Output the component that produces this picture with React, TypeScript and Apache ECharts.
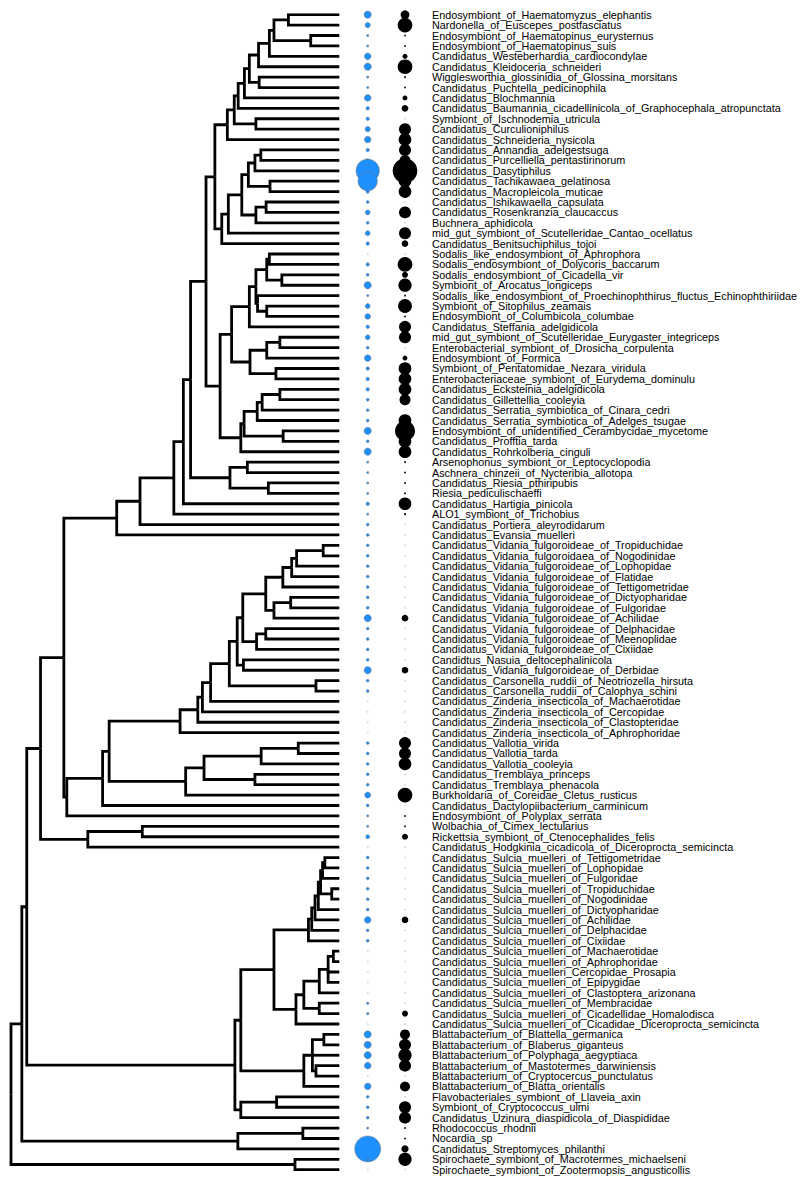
import React, { useEffect, useRef } from "react";
import * as echarts from "echarts";

const leafLabels: string[] = [
  "Endosymbiont_of_Haematomyzus_elephantis",
  "Nardonella_of_Euscepes_postfasciatus",
  "Endosymbiont_of_Haematopinus_eurysternus",
  "Endosymbiont_of_Haematopinus_suis",
  "Candidatus_Westeberhardia_cardiocondylae",
  "Candidatus_Kleidoceria_schneideri",
  "Wigglesworthia_glossinidia_of_Glossina_morsitans",
  "Candidatus_Puchtella_pedicinophila",
  "Candidatus_Blochmannia",
  "Candidatus_Baumannia_cicadellinicola_of_Graphocephala_atropunctata",
  "Symbiont_of_Ischnodemia_utricula",
  "Candidatus_Curculioniphilus",
  "Candidatus_Schneideria_nysicola",
  "Candidatus_Annandia_adelgestsuga",
  "Candidatus_Purcelliella_pentastirinorum",
  "Candidatus_Dasytiphilus",
  "Candidatus_Tachikawaea_gelatinosa",
  "Candidatus_Macropleicola_muticae",
  "Candidatus_Ishikawaella_capsulata",
  "Candidatus_Rosenkranzia_claucaccus",
  "Buchnera_aphidicola",
  "mid_gut_symbiont_of_Scutelleridae_Cantao_ocellatus",
  "Candidatus_Benitsuchiphilus_tojoi",
  "Sodalis_like_endosymbiont_of_Aphrophora",
  "Sodalis_endosymbiont_of_Dolycoris_baccarum",
  "Sodalis_endosymbiont_of_Cicadella_vir",
  "Symbiont_of_Arocatus_longiceps",
  "Sodalis_like_endosymbiont_of_Proechinophthirus_fluctus_Echinophthiriidae",
  "Symbiont_of_Sitophilus_zeamais",
  "Endosymbiont_of_Columbicola_columbae",
  "Candidatus_Steffania_adelgidicola",
  "mid_gut_symbiont_of_Scutelleridae_Eurygaster_integriceps",
  "Enterobacterial_symbiont_of_Drosicha_corpulenta",
  "Endosymbiont_of_Formica",
  "Symbiont_of_Pentatomidae_Nezara_viridula",
  "Enterobacteriaceae_symbiont_of_Eurydema_dominulu",
  "Candidatus_Ecksteinia_adelgidicola",
  "Candidatus_Gillettellia_cooleyia",
  "Candidatus_Serratia_symbiotica_of_Cinara_cedri",
  "Candidatus_Serratia_symbiotica_of_Adelges_tsugae",
  "Endosymbiont_of_unidentified_Cerambycidae_mycetome",
  "Candidatus_Profftia_tarda",
  "Candidatus_Rohrkolberia_cinguli",
  "Arsenophonus_symbiont_or_Leptocyclopodia",
  "Aschnera_chinzeii_of_Nycteribia_allotopa",
  "Candidatus_Riesia_pthiripubis",
  "Riesia_pediculischaeffi",
  "Candidatus_Hartigia_pinicola",
  "ALO1_symbiont_of_Trichobius",
  "Candidatus_Portiera_aleyrodidarum",
  "Candidatus_Evansia_muelleri",
  "Candidatus_Vidania_fulgoroideae_of_Tropiduchidae",
  "Candidatus_Vidania_fulgoroidaea_of_Nogodinidae",
  "Candidatus_Vidania_fulgoroideae_of_Lophopidae",
  "Candidatus_Vidania_fulgoroideae_of_Flatidae",
  "Candidatus_Vidania_fulgoroideae_of_Tettigometridae",
  "Candidatus_Vidania_fulgoroideae_of_Dictyopharidae",
  "Candidatus_Vidania_fulgoroideae_of_Fulgoridae",
  "Candidatus_Vidania_fulgoroideae_of_Achilidae",
  "Candidatus_Vidania_fulgoroideae_of_Delphacidae",
  "Candidatus_Vidania_fulgoroideae_of_Meenoplidae",
  "Candidatus_Vidania_fulgoroideae_of_Cixiidae",
  "Candidtus_Nasuia_deltocephalinicola",
  "Candidatus_Vidania_fulgoroideae_of_Derbidae",
  "Candidatus_Carsonella_ruddii_of_Neotriozella_hirsuta",
  "Candidatus_Carsonella_ruddii_of_Calophya_schini",
  "Candidatus_Zinderia_insecticola_of_Machaerotidae",
  "Candidatus_Zinderia_insecticola_of_Cercopidae",
  "Candidatus_Zinderia_insecticola_of_Clastopteridae",
  "Candidatus_Zinderia_insecticola_of_Aphrophoridae",
  "Candidatus_Vallotia_virida",
  "Candidatus_Vallotia_tarda",
  "Candidatus_Vallotia_cooleyia",
  "Candidatus_Tremblaya_princeps",
  "Candidatus_Tremblaya_phenacola",
  "Burkholdaria_of_Coreidae_Cletus_rusticus",
  "Candidatus_Dactylopiibacterium_carminicum",
  "Endosymbiont_of_Polyplax_serrata",
  "Wolbachia_of_Cimex_lectularius",
  "Rickettsia_symbiont_of_Ctenocephalides_felis",
  "Candidatus_Hodgkinia_cicadicola_of_Diceroprocta_semicincta",
  "Candidatus_Sulcia_muelleri_of_Tettigometridae",
  "Candidatus_Sulcia_muelleri_of_Lophopidae",
  "Candidatus_Sulcia_muelleri_of_Fulgoridae",
  "Candidatus_Sulcia_muelleri_of_Tropiduchidae",
  "Candidatus_Sulcia_muelleri_of_Nogodinidae",
  "Candidatus_Sulcia_muelleri_of_Dictyopharidae",
  "Candidatus_Sulcia_muelleri_of_Achilidae",
  "Candidatus_Sulcia_muelleri_of_Delphacidae",
  "Candidatus_Sulcia_muelleri_of_Cixiidae",
  "Candidatus_Sulcia_muelleri_of_Machaerotidae",
  "Candidatus_Sulcia_muelleri_of_Aphrophoridae",
  "Candidatus_Sulcia_muelleri_Cercopidae_Prosapia",
  "Candidatus_Sulcia_muelleri_of_Epipygidae",
  "Candidatus_Sulcia_muelleri_of_Clastoptera_arizonana",
  "Candidatus_Sulcia_muelleri_of_Membracidae",
  "Candidatus_Sulcia_muelleri_of_Cicadellidae_Homalodisca",
  "Candidatus_Sulcia_muelleri_of_Cicadidae_Diceroprocta_semicincta",
  "Blattabacterium_of_Blattella_germanica",
  "Blattabacterium_of_Blaberus_giganteus",
  "Blattabacterium_of_Polyphaga_aegyptiaca",
  "Blattabacterium_of_Mastotermes_darwiniensis",
  "Blattabacterium_of_Cryptocercus_punctulatus",
  "Blattabacterium_of_Blatta_orientalis",
  "Flavobacteriales_symbiont_of_Llaveia_axin",
  "Symbiont_of_Cryptococcus_ulmi",
  "Candidatus_Uzinura_diaspidicola_of_Diaspididae",
  "Rhodococcus_rhodnii",
  "Nocardia_sp",
  "Candidatus_Streptomyces_philanthi",
  "Spirochaete_symbiont_of_Macrotermes_michaelseni",
  "Spirochaete_symbiont_of_Zootermopsis_angusticollis",
];

// blue bubble values (area units), one per leaf, 0 = absent
const blueValues: number[] = [
  13, 7, 1, 1, 11, 13, 1, 1, 11, 3,
  3, 7, 11, 3, 3, 136, 93, 3, 2, 6,
  2, 6, 3, 0, 3, 2, 13, 1, 6, 8,
  3, 6, 2, 11, 3, 3, 3, 2, 2, 2,
  13, 2, 13, 1, 1, 1, 1, 3, 1, 2,
  2, 2, 2, 2, 2, 2, 2, 2, 13, 2,
  2, 2, 2, 13, 2, 2, 0, 0, 0, 0,
  2, 2, 2, 2, 2, 9, 2, 1, 1, 4,
  0, 2, 2, 2, 2, 2, 2, 11, 2, 2,
  0, 0, 0, 0, 0, 1.5, 1.5, 0, 13, 13,
  13, 11, 0, 11, 2, 2, 2, 1, 1, 169,
  3, 0,
];

// black bubble values (area units), one per leaf, 0 = absent
const blackValues: number[] = [
  19, 54, 0.8, 0.8, 6, 54, 0.8, 0.8, 6, 11,
  0, 36, 40, 36, 30, 152, 40, 40, 0, 36,
  0, 36, 11, 0, 54, 9, 44, 0.8, 48, 0.8,
  36, 36, 0, 6, 40, 40, 40, 30, 0, 40,
  100, 40, 40, 0.8, 0.8, 0.8, 0.8, 40, 1, 0,
  0, 0, 0, 0, 0, 0, 0, 0, 11, 0,
  0, 0, 0, 11, 0, 0, 0, 0, 0, 0,
  36, 36, 40, 0, 0, 54, 0, 0.8, 0.8, 9,
  0, 0, 0, 0, 0, 0, 0, 11, 0, 0,
  0, 0, 0, 0, 0, 0, 9, 0, 25, 36,
  44, 36, 0, 25, 0, 36, 36, 0.8, 0.8, 13,
  44, 0,
];

// Tree topology: n(nodeDepth, ...children); leaves are 1-based label numbers, tips at depth 100
type TNode = { d: number; c: (TNode | number)[] };
const n = (d: number, ...c: (TNode | number)[]): TNode => ({ d, c });

const tree: TNode = n(0,
  n(3.3,
    n(4.8,
      n(9.0,
        n(16.1,
          n(32.2,
            n(39.3,
              n(49.6,
                n(52.5,
                  n(54.7,
                    n(59.4,
                      n(62.1,
                        n(65.9,
                          n(68.0,
                            n(69.2,
                              n(71.1,
                                n(72.6,
                                  n(75.4, n(78.7, n(80.1, n(84.5, 1, 2), n(91.3, 3, 4)), 5), 6),
                                  n(75.6, 7, 8)
                                ),
                                9
                              ),
                              10
                            ),
                            n(74.6, 11, 12)
                          ),
                          13
                        ),
                        n(64.2,
                          n(66.2,
                            n(70.3,
                              n(72.3, n(74.3, n(76.1, 14, 15), 16), n(78.9, 17, 18)),
                              n(74.6, n(77.7, 19, 20), 21)
                            ),
                            22
                          ),
                          23
                        )
                      ),
                      n(63.7,
                        n(67.2,
                          n(72.6,
                            n(74.6,
                              n(77.9, n(78.7, 24, 25), n(82.5, 26, 27)),
                              n(75.1, 28, n(77.9, 29, 30))
                            ),
                            31
                          ),
                          n(72.8,
                            n(77.9, n(81.9, 32, 33), 34),
                            n(80.7, 35, 36)
                          )
                        ),
                        n(70.0,
                          n(71.0,
                            n(75.0, n(76.5, n(81.9, 37, 38), 39), 40),
                            n(82.9, 41, 42)
                          ),
                          43
                        )
                      )
                    ),
                    n(66.7, n(72.0, 44, 45), n(78.4, 46, 47))
                  ),
                  48
                ),
                49
              ),
              50
            ),
            51
          ),
          n(17.0,
            n(27.9,
              n(29.9,
                n(51.5,
                  n(56.9,
                    n(58.3,
                      n(60.8,
                        n(66.5,
                          n(68.9,
                            n(70.6,
                              n(77.6,
                                n(82.8, n(85.5, n(87.0, n(95.1, 52, 53), 54), 55), 56),
                                n(80.1, n(85.2, 57, 58), 59)
                              ),
                              n(74.8, n(77.6, 60, 61), 62)
                            ),
                            n(70.8, 63, 64)
                          ),
                          n(92.9, 65, 66)
                        ),
                        67
                      ),
                      68
                    ),
                    69
                  ),
                  70
                ),
                n(53.2,
                  n(58.8,
                    n(76.2, n(87.5, 71, 72), 73),
                    n(74.3, 74, 75)
                  ),
                  76
                )
              ),
              77
            ),
            78
          )
        ),
        n(23.4, n(40.0, 79, 80), 81)
      ),
      n(68.2,
        n(70.0,
          n(80.1,
            n(90.6, n(91.6, n(92.6, n(93.6, n(94.3, n(94.9, n(95.6, 82, 83), 84), n(97.7, 85, 86)), 87), 88), 89), 90),
            n(86.8, n(89.2, n(93.9, n(96.6, n(98.2, 91, 92), 93, 94), 95), n(93.9, 96, 97)), 98)
          ),
          n(89.2, n(91.8, n(95.3, 99, 100), 101, n(92.9, 102, 103)), 104)
        ),
        n(70.0, n(80.9, 105, 106), 107)
      )
    ),
    n(69.1, n(88.9, 108, 109), 110)
  ),
  n(86.5, 111, 112)
);

const TIP_DEPTH = 100;

function treeSegments(root: TNode): number[][][] {
  const segs: number[][][] = [];
  const lay = (node: TNode | number): { x: number; y: number } => {
    if (typeof node === "number") return { x: TIP_DEPTH, y: node - 1 };
    const kids = node.c.map(lay);
    const ys = kids.map((k) => k.y);
    const y = (Math.min(...ys) + Math.max(...ys)) / 2;
    kids.forEach((k) => segs.push([[node.d, y], [node.d, k.y], [k.x, k.y]]));
    return { x: node.d, y };
  };
  lay(root);
  return segs;
}

// layout (pixels)
const ROOT_PX = 11;
const TIP_PX = 339.3;
const TOP_PX = 14.7;
const ROWS_H = 1155;
const GRID_W = 430;
const BLUE_PX = 367.7;
const BLACK_PX = 405;
const LABEL_PX = 432;

export default function App() {
  const ref = useRef<HTMLDivElement>(null);
  useEffect(() => {
    document.body.style.margin = "0";
    if (!ref.current) return;
    const chart = echarts.init(ref.current, undefined, { renderer: "svg" });
    const pxPer = (TIP_PX - ROOT_PX) / TIP_DEPTH;
    const xMax = GRID_W / pxPer;
    const blueX = (BLUE_PX - ROOT_PX) / pxPer;
    const blackX = (BLACK_PX - ROOT_PX) / pxPer;
    const segs = treeSegments(tree);
    const nLeaves = leafLabels.length;

    const zeroPts = (vals: number[], x: number) =>
      vals.map((v, i) => (v === 0 ? [x, i, 0] : null)).filter((p) => p !== null);
    const posPts = (vals: number[], x: number) =>
      vals.map((v, i) => (v > 0 ? [x, i, v] : null)).filter((p) => p !== null);
    const sizeFn = (val: number[]) => 2 * Math.sqrt(val[2]);

    chart.setOption({
      animation: false,
      backgroundColor: "#ffffff",
      grid: [
        { left: ROOT_PX, top: TOP_PX, width: GRID_W, height: ROWS_H },
        { left: LABEL_PX, top: TOP_PX, width: 300, height: ROWS_H },
      ],
      xAxis: [
        { type: "value", gridIndex: 0, min: 0, max: xMax, show: false },
        { type: "value", gridIndex: 1, min: 0, max: 1, show: false },
      ],
      yAxis: [
        { type: "value", gridIndex: 0, min: 0, max: nLeaves - 1, inverse: true, show: false },
        {
          type: "category",
          gridIndex: 1,
          data: leafLabels,
          inverse: true,
          boundaryGap: false,
          axisLine: { show: false },
          axisTick: { show: false },
          splitLine: { show: false },
          axisLabel: {
            inside: true,
            margin: 0,
            interval: 0,
            fontSize: 10.8,
            fontFamily: "'Liberation Sans', Arial, sans-serif",
            color: "#000000",
          },
        },
      ],
      series: [
        {
          type: "lines",
          coordinateSystem: "cartesian2d",
          xAxisIndex: 0,
          yAxisIndex: 0,
          polyline: true,
          silent: true,
          data: segs.map((c) => ({ coords: c })),
          lineStyle: { color: "#000000", width: 2.8, opacity: 1, cap: "butt", join: "miter" },
        },
        {
          type: "scatter",
          xAxisIndex: 0,
          yAxisIndex: 0,
          silent: true,
          symbol: "circle",
          symbolSize: 2,
          data: zeroPts(blueValues, blueX),
          itemStyle: { color: "#d3d3d3" },
        },
        {
          type: "scatter",
          xAxisIndex: 0,
          yAxisIndex: 0,
          silent: true,
          symbol: "circle",
          symbolSize: 2,
          data: zeroPts(blackValues, blackX),
          itemStyle: { color: "#d3d3d3" },
        },
        {
          type: "scatter",
          xAxisIndex: 0,
          yAxisIndex: 0,
          silent: true,
          symbol: "circle",
          symbolSize: sizeFn,
          data: posPts(blueValues, blueX),
          itemStyle: { color: "#1E90FF", borderColor: "rgba(110,110,110,0.8)", borderWidth: 0.6, opacity: 1 },
        },
        {
          type: "scatter",
          xAxisIndex: 0,
          yAxisIndex: 0,
          silent: true,
          symbol: "circle",
          symbolSize: sizeFn,
          data: posPts(blackValues, blackX),
          itemStyle: { color: "#000000", opacity: 1 },
        },
      ],
    });
    return () => chart.dispose();
  }, []);
  return <div ref={ref} style={{ width: 800, height: 1186 }} />;
}
